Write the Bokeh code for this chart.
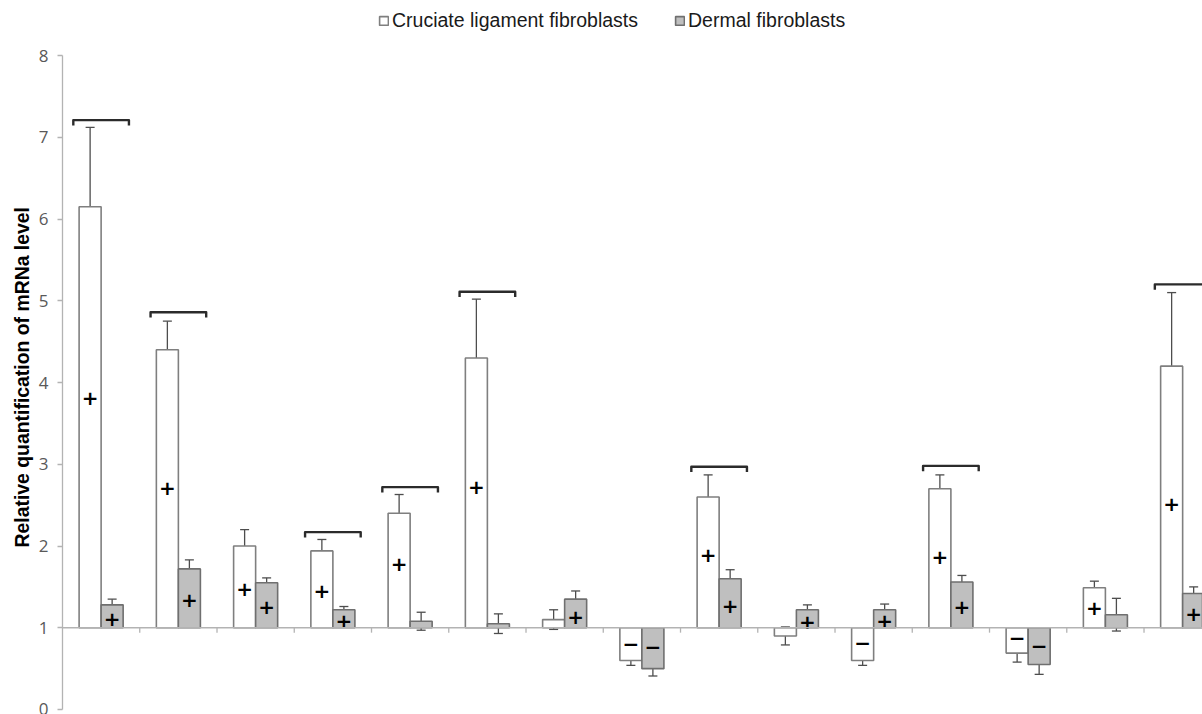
import numpy as np
from bokeh.plotting import figure
from bokeh.models import (ColumnDataSource, Whisker, TeeHead, Legend, LegendItem,
                          SingleIntervalTicker, Range1d, Span, Title)
from bokeh.embed import file_html
from bokeh.resources import INLINE
from bokeh.core.properties import value

# ---------------- data ----------------
series = ["Cruciate ligament fibroblasts", "Dermal fibroblasts"]
cruciate = [6.15, 4.40, 2.00, 1.94, 2.40, 4.30, 1.10, 0.60, 2.60, 0.90, 0.60, 2.70, 0.69, 1.49, 4.20]
cruciate_err = [0.97, 0.35, 0.20, 0.14, 0.23, 0.72, 0.12, 0.06, 0.27, 0.11, 0.06, 0.17, 0.11, 0.08, 0.90]
dermal = [1.28, 1.72, 1.55, 1.22, 1.08, 1.05, 1.35, 0.50, 1.60, 1.22, 1.22, 1.56, 0.55, 1.16, 1.42]
dermal_err = [0.07, 0.11, 0.06, 0.04, 0.11, 0.12, 0.10, 0.09, 0.11, 0.06, 0.07, 0.08, 0.12, 0.20, 0.08]

# regulation signs drawn inside the bars (and the level at which they sit)
cruciate_sign = ["+", "+", "+", "+", "+", "+", "", "\u2212", "+", "", "\u2212", "+", "\u2212", "+", "+"]
cruciate_sign_y = [3.81, 2.71, 1.47, 1.45, 1.78, 2.72, None, 0.80, 1.89, None, 0.81, 1.87, 0.88, 1.24, 2.51]
dermal_sign = ["+", "+", "+", "+", "", "", "+", "\u2212", "+", "+", "+", "+", "\u2212", "", "+"]
dermal_sign_y = [1.11, 1.34, 1.25, 1.08, None, None, 1.13, 0.77, 1.27, 1.07, 1.08, 1.25, 0.78, None, 1.17]

# significance brackets: group index and level
bracket_group = [0, 1, 3, 4, 5, 8, 11, 14]
bracket_level = [7.21, 4.86, 2.17, 2.72, 5.11, 2.97, 2.98, 5.20]

baseline = 1.0
y_ticks_max = 8
y_label = "Relative quantification of mRNa level"

# ---------------- geometry ----------------
n = len(cruciate)
centers = np.arange(n) + 0.5
bar_w = 0.285
xw = centers - bar_w / 2
xg = centers + bar_w / 2

FONT = "Liberation Sans"

p = figure(width=1202, height=714, output_backend="svg", toolbar_location=None,
           x_range=Range1d(0, 14.757), y_range=Range1d(-0.061, 8.673),
           x_axis_location=None,
           min_border_left=62, min_border_right=0, min_border_top=0, min_border_bottom=0)
p.outline_line_color = None
p.grid.visible = False
p.background_fill_color = "white"
p.border_fill_color = "white"

# y axis
ax = p.yaxis[0]
ax.bounds = (0, y_ticks_max)
ax.ticker = SingleIntervalTicker(interval=1)
ax.minor_tick_line_color = None
ax.major_tick_in = 0
ax.major_tick_out = 5
ax.axis_line_color = "#b3b3b3"
ax.axis_line_width = 1.3
ax.major_tick_line_color = "#b3b3b3"
ax.major_tick_line_width = 1.3
ax.major_label_text_font = "Open Sans"
ax.major_label_text_font_size = "17px"
ax.major_label_text_color = "#595959"
ax.major_label_standoff = 9

# axis title as a side title, placed along the 0-8 span
p.add_layout(Title(text=y_label, align="left", offset=167,
                   text_font=FONT, text_font_style="bold",
                   text_font_size="19.4px", text_color="black", standoff=6), "left")

# baseline (bars start at 1) and category ticks
p.add_layout(Span(location=baseline, dimension="width", line_color="#b3b3b3", line_width=1.3))
bounds_x = np.arange(1, n + 1)
p.segment(x0=bounds_x, y0=baseline, x1=bounds_x, y1=baseline - 0.06,
          line_color="#b3b3b3", line_width=1.3)

# bars
src_w = ColumnDataSource(dict(x=xw, top=cruciate,
                              upper=np.array(cruciate) + np.array(cruciate_err),
                              lower=np.array(cruciate) - np.array(cruciate_err)))
src_g = ColumnDataSource(dict(x=xg, top=dermal,
                              upper=np.array(dermal) + np.array(dermal_err),
                              lower=np.array(dermal) - np.array(dermal_err)))
rw = p.vbar(x="x", top="top", bottom=baseline, width=bar_w, source=src_w,
            fill_color="white", line_color="#7f7f7f", line_width=1.6)
rg = p.vbar(x="x", top="top", bottom=baseline, width=bar_w, source=src_g,
            fill_color="#bfbfbf", line_color="#6f6f6f", line_width=1.6)

# error bars
for src in (src_w, src_g):
    p.add_layout(Whisker(base="x", upper="upper", lower="lower", source=src,
                         line_color="#4d4d4d", line_width=1.3,
                         upper_head=TeeHead(size=9, line_color="#4d4d4d", line_width=1.3),
                         lower_head=TeeHead(size=9, line_color="#4d4d4d", line_width=1.3)))

# signs
def sign_source(xs, signs, ys):
    keep = [i for i, s in enumerate(signs) if s]
    return ColumnDataSource(dict(x=[xs[i] for i in keep], y=[ys[i] for i in keep],
                                 t=[signs[i] for i in keep]))

for src in (sign_source(xw, cruciate_sign, cruciate_sign_y),
            sign_source(xg, dermal_sign, dermal_sign_y)):
    p.text(x="x", y="y", text="t", source=src, text_font=value("DejaVu Sans"),
           text_font_style="bold", text_font_size="20px", text_align="center",
           text_baseline="middle", text_color="black")

# brackets
half = 0.36
hook = 0.065
bx, by = [], []
for g, lv in zip(bracket_group, bracket_level):
    c = centers[g]
    bx.append([c - half, c - half, c + half, c + half])
    by.append([lv - hook, lv, lv, lv - hook])
p.multi_line(xs=bx, ys=by, line_color="#2b2b2b", line_width=2.4, line_join="round")

# legend
legend = Legend(items=[LegendItem(label=series[0], renderers=[rw]),
                       LegendItem(label=series[1], renderers=[rg])],
                orientation="horizontal", location=(316, 682),
                border_line_color=None, background_fill_alpha=0,
                glyph_width=11, glyph_height=11, label_standoff=3, spacing=36,
                padding=2, margin=0, label_height=20,
                label_text_font=FONT, label_text_font_size="19.5px",
                label_text_color="#1a1a1a")
p.add_layout(legend)

open("out.html", "w").write(file_html(p, INLINE))
